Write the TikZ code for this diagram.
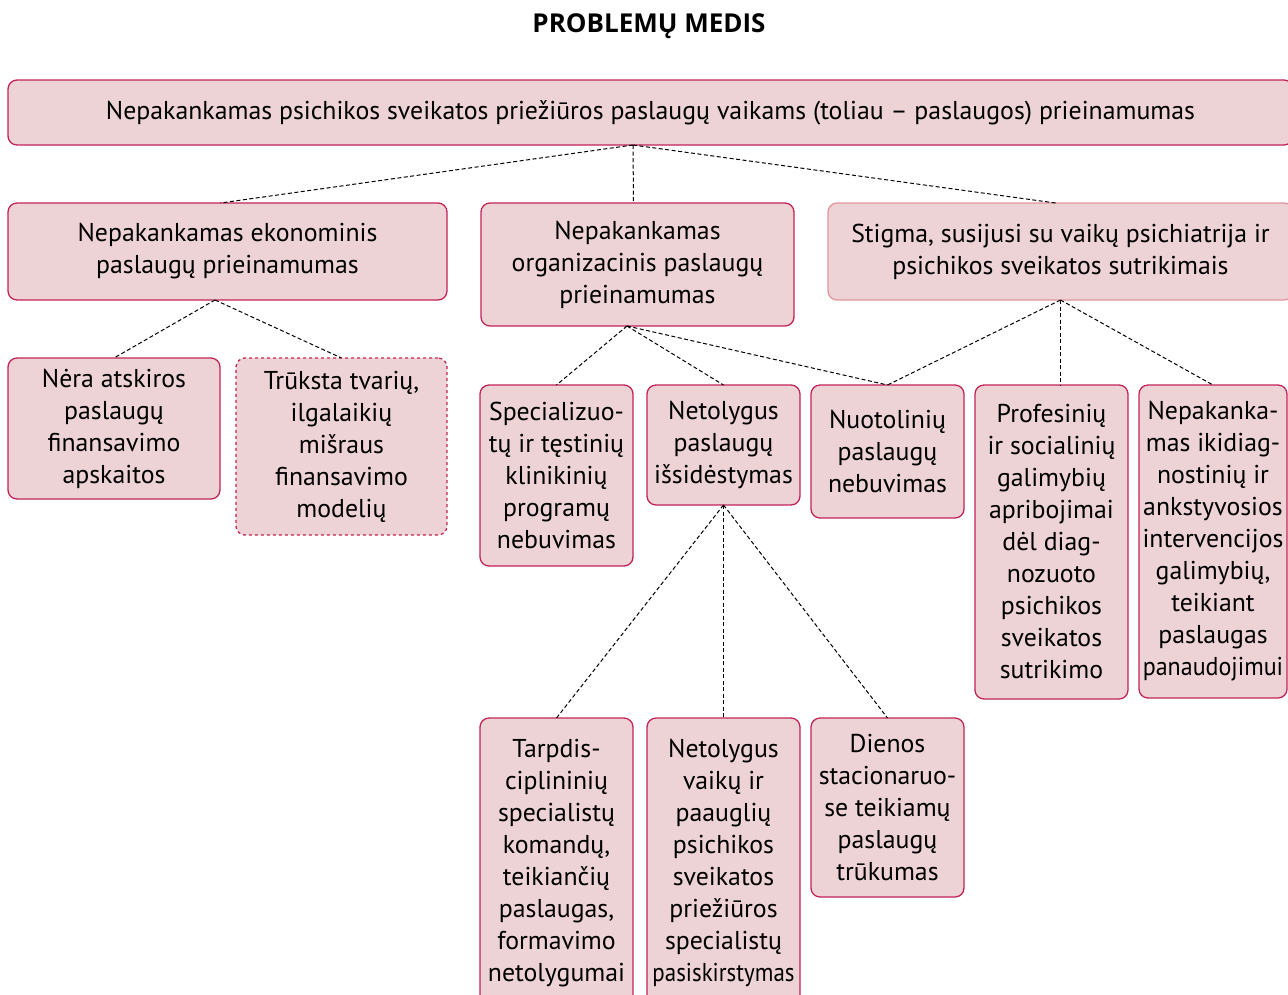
\documentclass[tikz,border=0pt]{standalone}
\usepackage{graphicx}
\usepackage{fontspec}
\setmainfont{PT Sans}
\newfontfamily\headfont{Open Sans}
\usetikzlibrary{positioning}
\definecolor{boxfill}{RGB}{237,211,213}
\definecolor{boxline}{RGB}{194,36,88}
\definecolor{softline}{RGB}{226,150,158}

\begin{document}
\begin{tikzpicture}[x=1pt, y=-1pt,
			probbox/.style={rectangle, rounded corners=9pt, draw=boxline, fill=boxfill, line width=1.3pt, align=center, inner sep=0pt, outer sep=0pt, font=\fontsize{25.8}{32}\selectfont},
			link/.style={dash pattern=on 4pt off 2.5pt, line width=1pt},
		]
		\clip (0,0) rectangle (1288,994);

			%Title
			\node[font=\headfont\fontsize{26}{30}\selectfont\bfseries] (title) at (649,26) {PROBLEMŲ MEDIS};

			%Nodes
			\node[probbox, anchor=north west, minimum width=1285pt, minimum height=65pt] (top) at (8,80) {Nepakankamas psichikos sveikatos priežiūros paslaugų vaikams (toliau – paslaugos) prieinamumas};

			\node[probbox, anchor=north west, minimum width=439pt, minimum height=97pt] (eco) at (8,203) {Nepakankamas ekonominis\\paslaugų prieinamumas};
			\node[probbox, minimum width=313pt, minimum height=123pt] (org) [right=34pt of eco.north east, anchor=north west] {Nepakankamas\\organizacinis paslaugų\\prieinamumas};
			\node[probbox, draw=softline, minimum width=465pt, minimum height=97pt] (stigma) [right=34pt of org.north east, anchor=north west] {Stigma, susijusi su vaikų psichiatrija ir\\psichikos sveikatos sutrikimais};

			\node[probbox, anchor=north west, minimum width=212pt, minimum height=141pt] (nera) at (8,358) {Nėra atskiros\\paslaugų\\finansavimo\\apskaitos};
			\node[probbox, dashed, minimum width=211pt, minimum height=177pt] (truksta) [right=16pt of nera.north east, anchor=north west] {Trūksta tvarių,\\ilgalaikių\\mišraus\\finansavimo\\modelių};

			\node[probbox, anchor=north west, minimum width=153pt, minimum height=181pt] (spec) at (480,385) {Specializuo-\\tų ir tęstinių\\klinikinių\\programų\\nebuvimas};
			\node[probbox, minimum width=153pt, minimum height=120pt] (netol) [right=14pt of spec.north east, anchor=north west] {Netolygus\\paslaugų\\išsidėstymas};
			\node[probbox, minimum width=153pt, minimum height=133pt] (nuot) [right=11pt of netol.north east, anchor=north west] {Nuotolinių\\paslaugų\\nebuvimas};
			\node[probbox, minimum width=153pt, minimum height=314pt] (prof) [right=11pt of nuot.north east, anchor=north west] {Profesinių\\ir socialinių\\galimybių\\apribojimai\\dėl diag-\\nozuoto\\psichikos\\sveikatos\\sutrikimo};
			\node[probbox, minimum width=148pt, minimum height=313pt] (ikidiag) [right=11pt of prof.north east, anchor=north west] {Nepakanka-\\mas ikidiag-\\nostinių ir\\ankstyvosios\\intervencijos\\galimybių,\\teikiant\\paslaugas\\\scalebox{0.93}[1]{panaudojimui}};

			\node[probbox, anchor=north west, minimum width=153pt, minimum height=290pt] (komandos) at (480,718) {Tarpdis-\\cipli\-ninių\\specialistų\\komandų,\\teikiančių\\paslaugas,\\formavimo\\netolygumai};
			\node[probbox, minimum width=153pt, minimum height=290pt] (specialistai) [right=14pt of komandos.north east, anchor=north west] {Netolygus\\vaikų ir\\paauglių\\psichikos\\sveikatos\\priežiūros\\specialistų\\\scalebox{0.89}[1]{pasiskirstymas}};
			\node[probbox, minimum width=153pt, minimum height=179pt] (dienos) [right=11pt of specialistai.north east, anchor=north west] {Dienos\\stacionaruo-\\se teikiamų\\paslaugų\\trūkumas};

			%Joints
			\coordinate (topjoin) at (633,145);
			\coordinate (ecojoin) at (215,300);
			\coordinate (orgjoin) at (627,326);

			%Lines
			\draw[link] (topjoin) -- ([xshift=-7pt]eco.north);
			\draw[link] (topjoin) -- ([xshift=-4pt]org.north);
			\draw[link] (topjoin) -- ([xshift=-5pt]stigma.north);

			\draw[link] (ecojoin) -- (nera.north);
			\draw[link] (ecojoin) -- (truksta.north);

			\draw[link] (orgjoin) -- (spec.north);
			\draw[link] (orgjoin) -- (netol.north);
			\draw[link] (orgjoin) -- (nuot.north);

			\draw[link] (stigma.south) -- (nuot.north);
			\draw[link] (stigma.south) -- ([xshift=9pt]prof.north);
			\draw[link] (stigma.south) -- (ikidiag.north);

			\draw[link] (netol.south) -- (komandos.north);
			\draw[link] (netol.south) -- (specialistai.north);
			\draw[link] (netol.south) -- (dienos.north);

		\end{tikzpicture}
\end{document}
